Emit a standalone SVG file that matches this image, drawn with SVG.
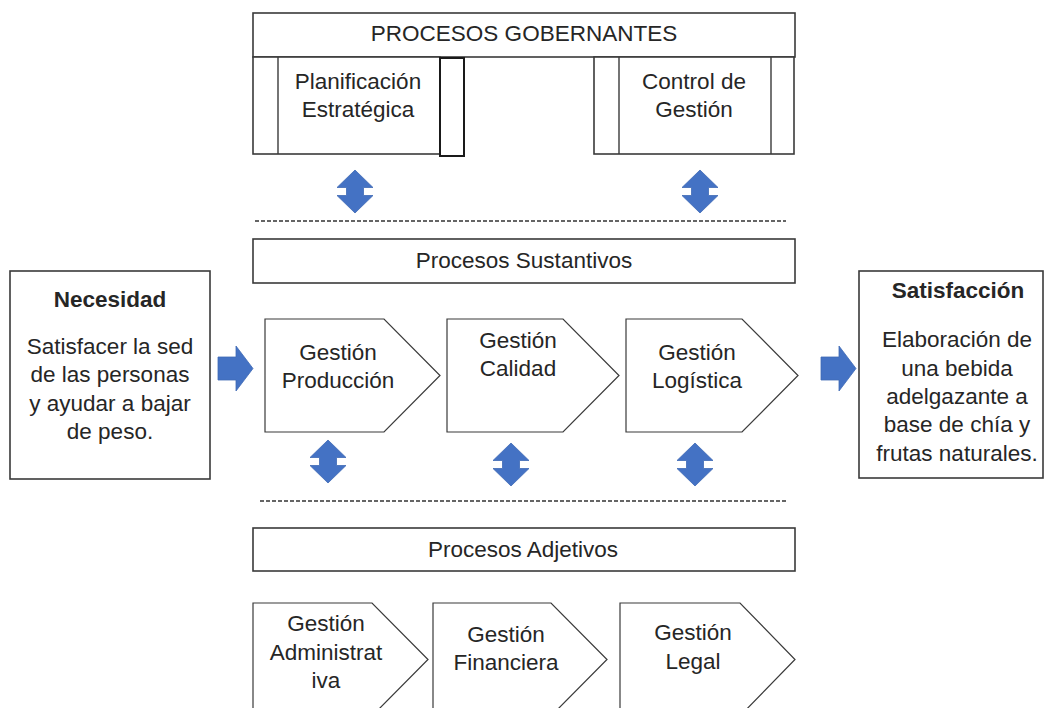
<svg xmlns="http://www.w3.org/2000/svg" xmlns:xlink="http://www.w3.org/1999/xlink" width="1044" height="708" viewBox="0 0 1044 708">
  <style>
    .box { fill: #ffffff; stroke: #3a3a3a; stroke-width: 1.6; }
    .flow { fill: #ffffff; stroke: #3a3a3a; stroke-width: 1.2; }
    .thin { fill: none; stroke: #3a3a3a; stroke-width: 1.4; }
    .dash { fill: none; stroke: #333333; stroke-width: 1.3; stroke-dasharray: 4 2; }
    .arrow { fill: #4472C4; stroke: #3F69B5; stroke-width: 0.8; }
    text { font-family: "Liberation Sans", Arial, sans-serif; font-size: 22.5px; fill: #262626; text-anchor: middle; }
    .bold { font-weight: bold; }
  </style>
  <defs>
    <!-- vertical two-way block arrow, anchored at its top tip -->
    <path id="updown" d="M0,0 L18,17.5 L8.5,17.5 L8.5,25.5 L18,25.5 L0,43 L-18,25.5 L-8.5,25.5 L-8.5,17.5 L-18,17.5 Z"/>
    <!-- right-pointing block arrow, anchored at its left end / centre line -->
    <path id="rightArrow" d="M0,-11.5 L18,-11.5 L18,-22.5 L35,0 L18,22.5 L18,11.5 L0,11.5 Z"/>
  </defs>

  <!-- Governing processes -->
  <g id="procesos-gobernantes">
    <rect class="box" x="253" y="13" width="542" height="44"/>
    <text x="524" y="41">PROCESOS GOBERNANTES</text>
  </g>
  <g id="planificacion-estrategica">
    <rect class="box" x="253" y="57" width="187" height="97"/>
    <line class="thin" x1="278" y1="57" x2="278" y2="154"/>
    <rect class="box" x="440" y="58" width="24" height="98" style="stroke:#1a1a1a;stroke-width:2"/>
    <text x="358" y="89">Planificación</text>
    <text x="358" y="117">Estratégica</text>
  </g>
  <g id="control-gestion">
    <rect class="box" x="594" y="57" width="200" height="97"/>
    <line class="thin" x1="619" y1="57" x2="619" y2="154"/>
    <line class="thin" x1="771" y1="57" x2="771" y2="154"/>
    <text x="694" y="89">Control de</text>
    <text x="694" y="117">Gestión</text>
  </g>

  <!-- Core processes -->
  <g id="procesos-sustantivos">
    <rect class="box" x="253" y="239" width="542" height="44"/>
    <text x="524" y="268">Procesos Sustantivos</text>
  </g>
  <g id="necesidad">
    <rect class="box" x="10" y="271" width="200" height="208"/>
    <text class="bold" x="110" y="307">Necesidad</text>
    <text x="110" y="353.5">Satisfacer la sed</text>
    <text x="110" y="382">de las personas</text>
    <text x="110" y="410.5">y ayudar a bajar</text>
    <text x="110" y="439">de peso.</text>
  </g>
  <g id="gestion-produccion">
    <path class="flow" d="M265,319 L384,319 L440,375.5 L384,432 L265,432 Z"/>
    <text x="338" y="360">Gestión</text>
    <text x="338" y="388">Producción</text>
  </g>
  <g id="gestion-calidad">
    <path class="flow" d="M447,319 L563,319 L619,375.5 L563,432 L447,432 Z"/>
    <text x="518" y="348">Gestión</text>
    <text x="518" y="376">Calidad</text>
  </g>
  <g id="gestion-logistica">
    <path class="flow" d="M626,319 L742,319 L798,375.5 L742,432 L626,432 Z"/>
    <text x="697" y="360">Gestión</text>
    <text x="697" y="388">Logística</text>
  </g>
  <g id="satisfaccion">
    <rect class="box" x="859" y="271" width="184" height="207"/>
    <text class="bold" x="958" y="298">Satisfacción</text>
    <text x="957" y="347">Elaboración de</text>
    <text x="957" y="375.5">una bebida</text>
    <text x="957" y="404">adelgazante a</text>
    <text x="957" y="432">base de chía y</text>
    <text x="957" y="460.5">frutas naturales.</text>
  </g>

  <!-- Support processes -->
  <g id="procesos-adjetivos">
    <rect class="box" x="253" y="528" width="542" height="43"/>
    <text x="523" y="557">Procesos Adjetivos</text>
  </g>
  <g id="gestion-administrativa">
    <path class="flow" d="M253,603 L372,603 L428,659.5 L372,716 L253,716 Z"/>
    <text x="326" y="631">Gestión</text>
    <text x="326" y="659.5">Administrat</text>
    <text x="326" y="688">iva</text>
  </g>
  <g id="gestion-financiera">
    <path class="flow" d="M433,603 L551,603 L607,659.5 L551,716 L433,716 Z"/>
    <text x="506" y="642">Gestión</text>
    <text x="506" y="670">Financiera</text>
  </g>
  <g id="gestion-legal">
    <path class="flow" d="M620,603 L740,603 L795,659.5 L740,716 L620,716 Z"/>
    <text x="693" y="640">Gestión</text>
    <text x="693" y="669">Legal</text>
  </g>

  <!-- Connectors: separators and block arrows -->
  <g id="connectors">
    <line class="dash" x1="255" y1="221" x2="786" y2="221"/>
    <line class="dash" x1="260" y1="501" x2="786" y2="501"/>
    <use class="arrow" href="#updown" x="355" y="170"/>
    <use class="arrow" href="#updown" x="700" y="170"/>
    <use class="arrow" href="#updown" x="328" y="440"/>
    <use class="arrow" href="#updown" x="511" y="443"/>
    <use class="arrow" href="#updown" x="695" y="443"/>
    <use class="arrow" href="#rightArrow" x="218" y="368.5"/>
    <use class="arrow" href="#rightArrow" x="821" y="368.5"/>
  </g>
</svg>
